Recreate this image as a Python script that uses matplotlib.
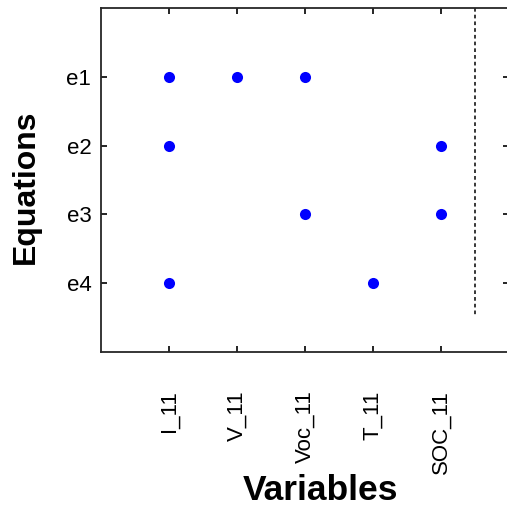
import matplotlib
matplotlib.use("Agg")
import matplotlib.pyplot as plt

variables = ["I_11", "V_11", "Voc_11", "T_11", "SOC_11"]
equations = ["e1", "e2", "e3", "e4"]
# incidence: (equation index, variable index), 1-based
eq_idx = [1, 1, 1, 2, 2, 3, 3, 4, 4]
var_idx = [1, 2, 3, 1, 5, 3, 5, 1, 4]

plt.rcParams['font.family'] = ['Liberation Sans', 'DejaVu Sans']

fig = plt.figure(figsize=(5.07, 5.05), dpi=100)
ax = fig.add_axes([0.1992, 0.3036, 0.805, 0.68])

ax.plot(var_idx, eq_idx, 'o', color='#0000ff', markersize=8, markeredgewidth=0)
ax.plot([len(variables) + 0.5] * 2, [0, len(equations) + 0.5], color='black',
        linestyle=(0, (2.4, 2.0)), linewidth=1.1)

ax.set_xlim(0, len(variables) + 1)
ax.set_ylim(len(equations) + 1, 0)
ax.set_xticks(range(1, len(variables) + 1))
ax.set_xticklabels(variables, rotation=90, fontsize=16, va='top')
ax.set_yticks(range(1, len(equations) + 1))
ax.set_yticklabels(equations, fontsize=16)
ax.tick_params(axis='x', direction='in', length=4, width=1.2, top=True, pad=28)
ax.tick_params(axis='y', direction='in', length=4, width=1.2, right=True, pad=7)
for s in ax.spines.values():
    s.set_linewidth(1.3)
    s.set_color('#262626')

ax.set_xlabel("Variables", fontsize=25.5, fontweight='bold', va='center')
ax.set_ylabel("Equations", fontsize=23, fontweight='bold', va='center')
ax.xaxis.set_label_coords(0.537, -0.405)
ax.yaxis.set_label_coords(-0.184, 0.48)

fig.savefig("out.png", dpi=100)
